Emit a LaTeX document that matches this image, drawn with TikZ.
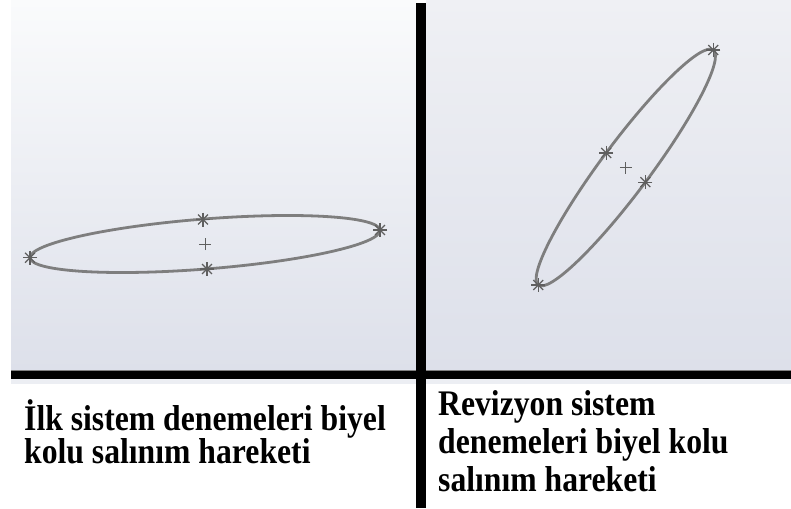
\documentclass[tikz,border=0pt]{standalone}
\usepackage{fontspec}
\newfontfamily\capfont[FakeStretch=0.88]{Liberation Serif}
\definecolor{ellcol}{HTML}{7E7E7E}
\definecolor{astcol}{HTML}{5F5F5F}
\definecolor{pantop}{HTML}{FAFBFC}
\definecolor{panbot}{HTML}{DDE0EA}
\definecolor{pantopR}{HTML}{EFF0F4}
\definecolor{stripcol}{HTML}{ECEEF3}
\tikzset{
  ellline/.style={draw=ellcol, line width=2.8pt},
  astk/.pic={\foreach \a in {0,45,90,135}{\draw[astcol, line width=1.2pt] (\a:7pt) -- (\a+180:7pt);}},
  crosshair/.pic={\draw[astcol, line width=0.8pt] (-6pt,0) -- (6pt,0) (0,-6pt) -- (0,6pt);},
  captext/.style={anchor=base west, align=left, inner sep=0pt, text=black,
    font=\capfont\bfseries\fontsize{36}{38}\selectfont}
}
\begin{document}
\begin{tikzpicture}[x=1pt, y=-1pt]
\useasboundingbox (0,0) rectangle (791,508);
\fill[white] (0,0) rectangle (791,508);
% panels
\shade[top color=pantop, bottom color=panbot] (11,0) rectangle (416,370);
\shade[top color=pantopR, bottom color=panbot] (426,0) rectangle (791,370);
\fill[stripcol] (11,379) rectangle (791,384);
% bars
\fill[black] (11,370) rectangle (791,379);
\draw[gray, line width=0.6pt] (11,370) -- (791,370);
\fill[black] (416,3) rectangle (426,508);
% left ellipse
\coordinate (cL) at (205,244);
\draw[ellline] (cL) ellipse [x radius=175.5pt, y radius=25pt, rotate=4.52];
\pic at (30,257.7) {astk};
\pic at (380,230) {astk};
\pic at (203,219.5) {astk};
\pic at (207,269) {astk};
\pic at (cL) {crosshair};
% right ellipse
\coordinate (cR) at (625.8,167.5);
\draw[ellline] (cR) ellipse [x radius=146.5pt, y radius=24.5pt, rotate=53.33];
\pic at (713.3,50) {astk};
\pic at (538.3,285) {astk};
\pic at (606.2,152.9) {astk};
\pic at (645.4,182.1) {astk};
\pic at (cR) {crosshair};
% captions
\node[captext] (capL) at (24,463) {İlk sistem denemeleri biyel\\[-5pt]kolu salınım hareketi};
\node[captext] (capR) at (438,491) {Revizyon sistem\\denemeleri biyel kolu\\salınım hareketi};
\end{tikzpicture}
\end{document}
